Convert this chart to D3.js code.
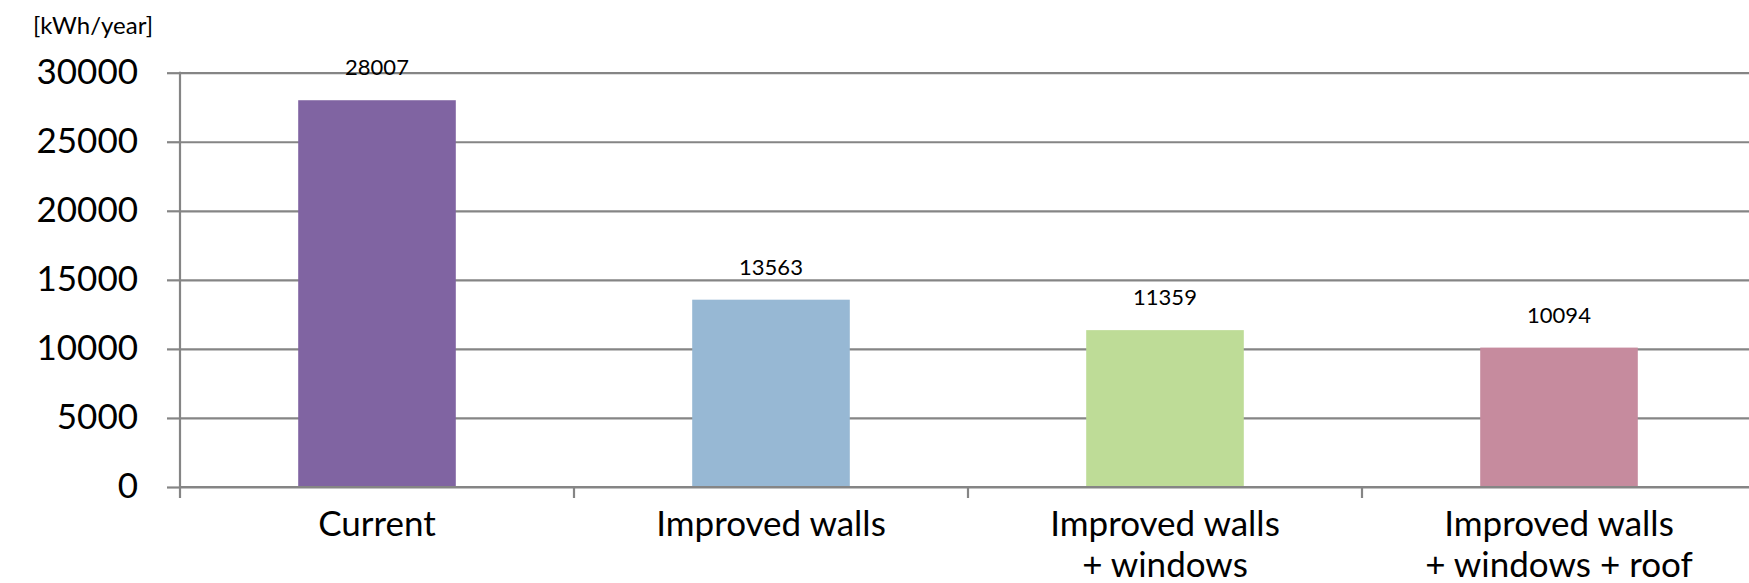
<!DOCTYPE html>
<html>
<head>
<meta charset="utf-8">
<script src="https://cdn.jsdelivr.net/npm/d3@7"></script>
<style>
  html, body { margin: 0; padding: 0; background: #fff; }
  svg { display: block; }
  text { font-family: Lato, "Open Sans", sans-serif; fill: #000; }
</style>
</head>
<body>
<svg id="chart" width="1749" height="583"></svg>
<script>
// Annual heating energy demand per retrofit scenario
const categories = ["Current", "Improved walls", "Improved walls\n+ windows", "Improved walls\n+ windows + roof"];
const values = [28007, 13563, 11359, 10094];
const barColors = ["#8064A2", "#97B8D4", "#BEDC97", "#C68B9E"];
const yTicks = [0, 5000, 10000, 15000, 20000, 25000, 30000];
const unitLabel = "[kWh/year]";

const svg = d3.select("#chart");
const W = 1749;
const plotLeft = 180, plotRight = 1756, plotTop = 72.7, plotBottom = 487;

const x = d3.scaleBand()
  .domain(categories)
  .range([plotLeft, plotRight])
  .paddingInner(0.6)
  .paddingOuter(0.3);

const y = d3.scaleLinear()
  .domain([0, 30000])
  .range([plotBottom, plotTop]);

const gridColor = "#858585";

// Horizontal gridlines, starting a little left of the axis as tick marks
const grid = svg.append("g")
  .attr("transform", `translate(${plotLeft},0)`)
  .call(d3.axisLeft(y).tickValues(yTicks).tickSizeInner(-(W - plotLeft)).tickSizeOuter(0).tickFormat(""));
grid.select(".domain").remove();
grid.selectAll(".tick line").attr("stroke", gridColor).attr("stroke-width", 2.2);

// Y axis: small tick stubs and labels
const yAxis = svg.append("g")
  .attr("transform", `translate(${plotLeft},0)`)
  .call(d3.axisLeft(y).tickValues(yTicks).tickSizeInner(13).tickSizeOuter(0).tickPadding(29).tickFormat(d3.format("d")));
yAxis.select(".domain").remove();
yAxis.selectAll(".tick line").attr("stroke", gridColor).attr("stroke-width", 2.2);
yAxis.selectAll(".tick text")
  .attr("font-size", 35)
  .attr("font-family", "Lato, sans-serif")
  .attr("fill", "#000")
  .attr("dy", "0.3em");

// Vertical axis line, running down into the first category tick
svg.append("line")
  .attr("x1", plotLeft).attr("x2", plotLeft)
  .attr("y1", y(30000) - 1).attr("y2", plotBottom + 11)
  .attr("stroke", gridColor).attr("stroke-width", 2.2);

// Category boundary ticks below the baseline
svg.append("g").selectAll("line")
  .data(categories.slice(1))
  .join("line")
  .attr("x1", (d, i) => plotLeft + (i + 1) * x.step())
  .attr("x2", (d, i) => plotLeft + (i + 1) * x.step())
  .attr("y1", plotBottom).attr("y2", plotBottom + 11)
  .attr("stroke", gridColor).attr("stroke-width", 2.2);

// Bars
svg.append("g").selectAll("rect")
  .data(values)
  .join("rect")
  .attr("x", (d, i) => x(categories[i]))
  .attr("width", x.bandwidth())
  .attr("y", d => y(d))
  .attr("height", d => y(0) - y(d))
  .attr("fill", (d, i) => barColors[i]);

// Redraw baseline over the bar bottoms
svg.append("line")
  .attr("x1", plotLeft).attr("x2", W)
  .attr("y1", plotBottom).attr("y2", plotBottom)
  .attr("stroke", gridColor).attr("stroke-width", 2.2);

// Value labels above each bar
svg.append("g").selectAll("text")
  .data(values)
  .join("text")
  .attr("x", (d, i) => x(categories[i]) + x.bandwidth() / 2)
  .attr("y", d => y(d) - 25)
  .attr("text-anchor", "middle")
  .attr("font-size", 22)
  .text(d => d);

// Category labels (two-line where needed)
const xAxis = svg.append("g")
  .attr("transform", `translate(0,${plotBottom})`)
  .call(d3.axisBottom(x).tickSize(0).tickPadding(0));
xAxis.select(".domain").remove();
xAxis.selectAll(".tick text").each(function (d) {
  const t = d3.select(this);
  t.text(null)
    .attr("y", 0)
    .attr("dy", null)
    .attr("font-size", 35)
    .attr("font-family", "Lato, sans-serif")
    .attr("fill", "#000");
  d.split("\n").forEach((line, i) => {
    t.append("tspan").attr("x", 0).attr("y", 49 + i * 41).text(line);
  });
});

// Unit label
svg.append("text")
  .attr("x", 33).attr("y", 34)
  .attr("font-size", 24)
  .text(unitLabel);
</script>
</body>
</html>
